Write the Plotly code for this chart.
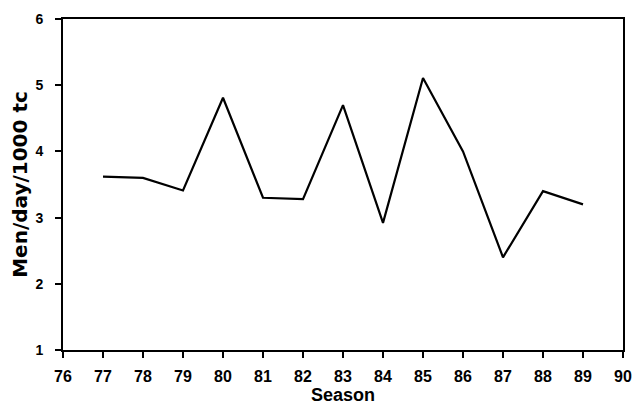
import plotly.graph_objects as go

seasons = [77, 78, 79, 80, 81, 82, 83, 84, 85, 86, 87, 88, 89]
men_per_day = [3.62, 3.6, 3.41, 4.81, 3.3, 3.28, 4.7, 2.92, 5.11, 4.0, 2.4, 3.4, 3.2]
x_ticks = list(range(76, 91))
y_ticks = [1, 2, 3, 4, 5, 6]

fig = go.Figure()
fig.add_trace(go.Scatter(x=seasons, y=men_per_day, mode="lines",
                         line=dict(color="black", width=2.2), showlegend=False))

font = "Liberation Sans, Arial, sans-serif"
fig.update_layout(
    width=642, height=412,
    margin=dict(l=63, r=10, t=19, b=59),
    paper_bgcolor="white", plot_bgcolor="white",
    font=dict(family=font, color="black"),
)
fig.update_xaxes(
    range=[76, 90], tickvals=x_ticks, ticktext=[f"<b>{v}</b>" for v in x_ticks],
    ticks="outside", ticklen=6, tickwidth=1.5, tickcolor="black",
    showline=True, linecolor="black", linewidth=1.8, mirror=True,
    showgrid=False, zeroline=False, tickfont=dict(size=16),
    ticklabelstandoff=5,
    title=dict(text="<b>Season</b>", font=dict(size=18), standoff=4),
)
fig.update_yaxes(
    range=[1, 6], tickvals=y_ticks, ticktext=[f"<b>{v}</b>" for v in y_ticks],
    ticks="outside", ticklen=6, tickwidth=1.5, tickcolor="black",
    showline=True, linecolor="black", linewidth=1.8, mirror=True,
    showgrid=False, zeroline=False, tickfont=dict(size=14),
    ticklabelstandoff=9,
    title=dict(text="<b>Men/day/1000 tc</b>",
               font=dict(size=20, family="DejaVu Sans, sans-serif"), standoff=3),
)
fig.write_html("out.html")
